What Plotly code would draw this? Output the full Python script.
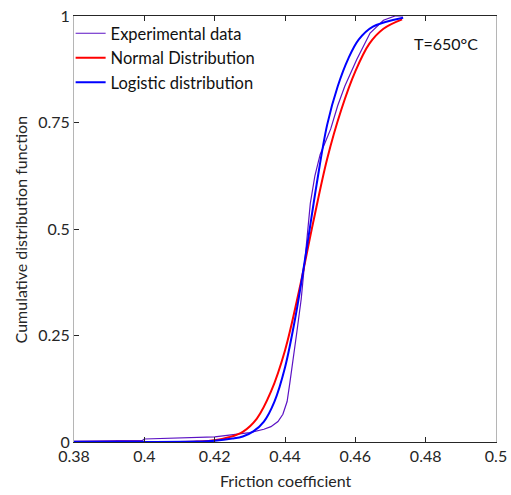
import plotly.graph_objects as go

exp_x = [0.380, 0.390, 0.3995, 0.400, 0.410, 0.420, 0.430, 0.434, 0.436, 0.438, 0.4394,
         0.4406, 0.4414, 0.4423, 0.4434, 0.4446, 0.4462, 0.4472, 0.4485, 0.4500, 0.4515,
         0.4530, 0.4550, 0.4570, 0.4604, 0.4642, 0.4680, 0.4713, 0.4735]
exp_y = [0.002, 0.003, 0.004, 0.007, 0.009, 0.012, 0.022, 0.030, 0.036, 0.048, 0.065,
         0.095, 0.140, 0.190, 0.260, 0.335, 0.480, 0.560, 0.625, 0.675, 0.705,
         0.735, 0.790, 0.835, 0.898, 0.960, 0.990, 1.000, 1.000]

# Normal distribution fit
norm_x = [0.380, 0.410, 0.415, 0.420, 0.424, 0.428, 0.432, 0.436, 0.440, 0.444, 0.448,
          0.452, 0.456, 0.460, 0.464, 0.468, 0.4733]
norm_y = [0.000, 0.000, 0.001, 0.004, 0.011, 0.024, 0.055, 0.118, 0.215, 0.355, 0.515,
          0.665, 0.780, 0.870, 0.935, 0.970, 0.992]

# Logistic distribution fit
logi_x = [0.380, 0.415, 0.420, 0.425, 0.428, 0.431, 0.434, 0.437, 0.440, 0.443, 0.446,
          0.449, 0.452, 0.455, 0.458, 0.461, 0.465, 0.4736]
logi_y = [0.000, 0.001, 0.003, 0.008, 0.013, 0.025, 0.048, 0.095, 0.175, 0.295, 0.445,
          0.605, 0.745, 0.835, 0.900, 0.945, 0.975, 0.996]

x_ticks = [0.38, 0.40, 0.42, 0.44, 0.46, 0.48, 0.50]
x_labels = ["0.38", "0.4", "0.42", "0.44", "0.46", "0.48", "0.5"]
y_ticks = [0, 0.25, 0.5, 0.75, 1]
y_labels = ["0", "0.25", "0.5", "0.75", "1"]

FONT = "Lato"
TXT = "#262626"

fig = go.Figure()
fig.add_trace(go.Scatter(x=exp_x, y=exp_y, mode="lines", name="Experimental data",
                         line=dict(color="#5b12c4", width=1.2)))
fig.add_trace(go.Scatter(x=norm_x, y=norm_y, mode="lines", name="Normal Distribution",
                         line=dict(color="#ff0000", width=2), line_shape="spline"))
fig.add_trace(go.Scatter(x=logi_x, y=logi_y, mode="lines", name="Logistic distribution",
                         line=dict(color="#0000ff", width=2), line_shape="spline"))

fig.update_layout(
    width=511, height=495,
    margin=dict(l=74, r=15, t=16, b=53, autoexpand=False),
    paper_bgcolor="white", plot_bgcolor="white",
    font=dict(family=FONT, size=16, color=TXT),
    showlegend=True,
    legend=dict(x=-0.008, y=1.0, xanchor="left", yanchor="top",
                bgcolor="rgba(0,0,0,0)", borderwidth=0,
                font=dict(family=FONT, size=16.5, color="#111111"),
                tracegroupgap=0),
    annotations=[
        dict(text="T=650°C", x=0.962, y=0.935, xref="paper", yref="paper",
             xanchor="right", yanchor="middle", showarrow=False,
             font=dict(family=FONT, size=16, color="#111111")),
        dict(text="Friction coefficient", x=0.5, y=-0.09, xref="paper", yref="paper",
             xanchor="center", yanchor="middle", showarrow=False,
             font=dict(family=FONT, size=16, color=TXT)),
        dict(text="Cumulative distribution function", x=-0.127, y=0.5,
             xref="paper", yref="paper", textangle=-90,
             xanchor="center", yanchor="middle", showarrow=False,
             font=dict(family=FONT, size=16, color=TXT)),
    ],
)

fig.update_xaxes(range=[0.38, 0.5], tickvals=x_ticks, ticktext=x_labels,
                 ticks="inside", ticklen=5, tickwidth=1, tickcolor=TXT,
                 showline=True, linecolor=TXT, linewidth=1, mirror="ticks",
                 showgrid=False, zeroline=False, automargin=False)
fig.update_yaxes(range=[0, 1], tickvals=y_ticks, ticktext=y_labels,
                 ticks="inside", ticklen=5, tickwidth=1, tickcolor=TXT,
                 showline=True, linecolor="#b5b5b5", linewidth=1, mirror=True,
                 showgrid=False, zeroline=False, automargin=False)

fig.write_html("out.html", config={"displayModeBar": False},
               post_script="document.body.style.margin='0';document.body.style.padding='0';")
